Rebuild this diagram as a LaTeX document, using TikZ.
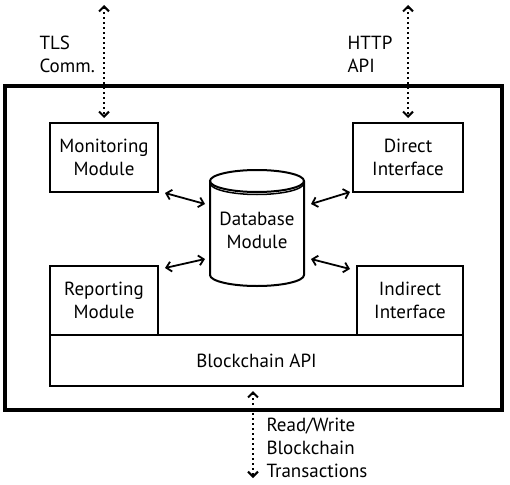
\documentclass[tikz,border=0pt]{standalone}
\usepackage{fontspec}
\setmainfont{PT Sans}
\usetikzlibrary{arrows.meta,shapes.geometric}
\begin{document}
\begin{tikzpicture}[x=1pt,y=-1pt,
  txt/.style={font=\fontsize{19}{23}\selectfont,align=center},
  lbl/.style={font=\fontsize{19}{23}\selectfont,align=left,anchor=west},
  boxline/.style={line width=2pt},
  biarrow/.style={line width=1.8pt,{Straight Barb[length=5pt,width=10pt]}-{Straight Barb[length=5pt,width=10pt]}},
  dotarrow/.style={line width=2pt,dash pattern=on 2pt off 3pt,{Straight Barb[length=5pt,width=10pt]}-{Straight Barb[length=5pt,width=10pt]}}
]
\useasboundingbox (0,0) rectangle (510,484);
% outer box
\draw[line width=3.2pt] (5,86) rectangle (502,410);
% module boxes
\draw[boxline] (50,123) rectangle (158,192);
\node[txt] (mon) at (104,157.5) {Monitoring\\Module};
\draw[boxline] (353,123) rectangle (463,192);
\node[txt] (dir) at (408,157.5) {Direct\\Interface};
\draw[boxline] (50,266) rectangle (158,335);
\node[txt] (rep) at (104,300.5) {Reporting\\Module};
\draw[boxline] (357,266) rectangle (463,335);
\node[txt] (ind) at (410,300.5) {Indirect\\Interface};
\draw[boxline] (50,335) rectangle (463,386);
\node[txt] (bapi) at (256.5,360.5) {Blockchain API};
% database cylinder
\draw[boxline,fill=white] (210,181) -- (210,275) arc[start angle=180,end angle=360,x radius=47,y radius=-11] -- (304,181);
\draw[boxline] (257,181) ellipse[x radius=47,y radius=11];
\draw[line width=1.5pt] (210,183) arc[start angle=180,end angle=360,x radius=47,y radius=-11.5];
\node[txt] (db) at (257,230.5) {Database\\Module};
% connector end points
\coordinate (monE) at (165,193);
\coordinate (dbML) at (205,204);
\coordinate (dbMR) at (311,204);
\coordinate (dirE) at (350,192);
\coordinate (repE) at (165,268);
\coordinate (dbRL) at (205,259);
\coordinate (dbRR) at (311,259);
\coordinate (indE) at (350,269);
\coordinate (tlsE) at (104,5);
\coordinate (monT) at (104,118);
\coordinate (httpE) at (408,5);
\coordinate (dirT) at (408,118);
\coordinate (bapiB) at (253,391);
\coordinate (bcE) at (253,478);
% connectors between modules and database
\draw[biarrow] (monE) -- (dbML);
\draw[biarrow] (dbMR) -- (dirE);
\draw[biarrow] (repE) -- (dbRL);
\draw[biarrow] (dbRR) -- (indE);
% external dotted connectors
\draw[dotarrow] (tlsE) -- (monT);
\draw[dotarrow] (httpE) -- (dirT);
\draw[dotarrow] (bapiB) -- (bcE);
% labels
\node[lbl] (tls) at (36,54.5) {TLS\\Comm.};
\node[lbl] (http) at (344,54.5) {HTTP\\API};
\node[lbl] (rw) at (263,447.5) {Read/Write\\Blockchain\\Transactions};
\end{tikzpicture}
\end{document}
